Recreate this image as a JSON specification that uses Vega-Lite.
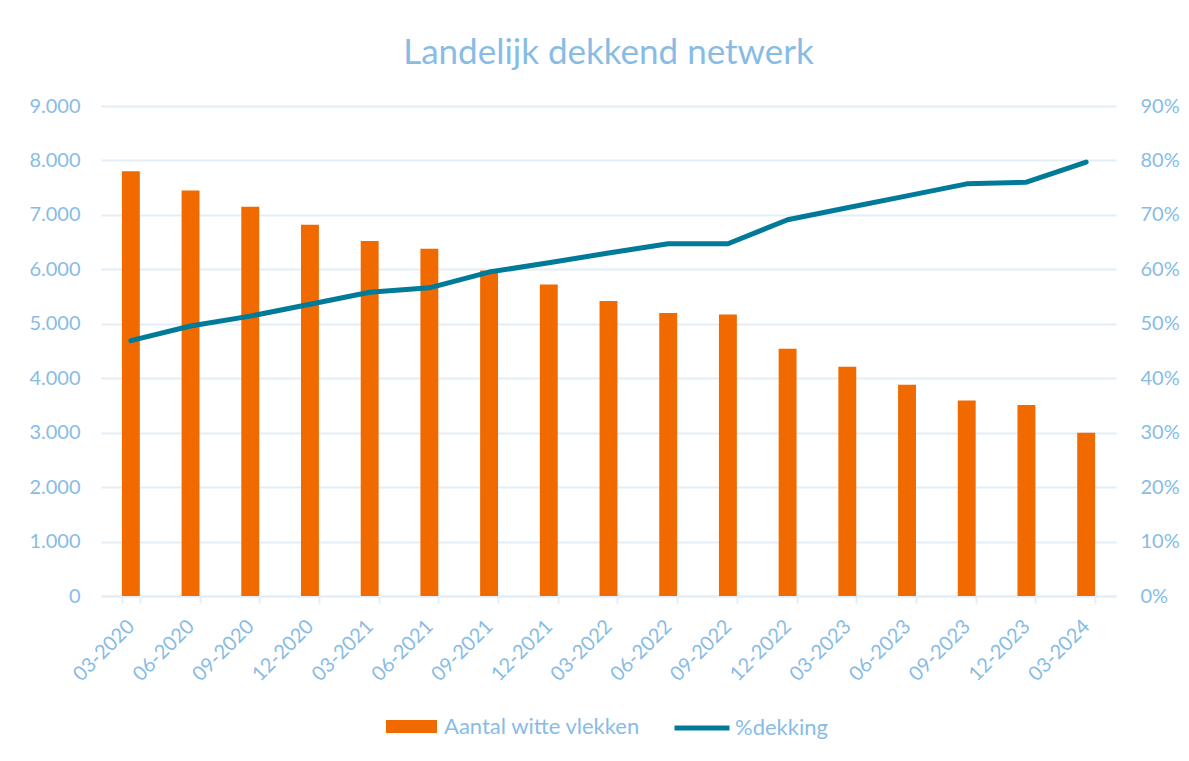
{
  "$schema": "https://vega.github.io/schema/vega-lite/v6.json",
  "width": 1015,
  "height": 490,
  "autosize": "none",
  "padding": {"left": 101, "top": 106, "right": 73, "bottom": 165},
  "background": "white",
  "title": {
    "text": "Landelijk dekkend netwerk",
    "font": "Lato",
    "fontSize": 35,
    "fontWeight": "normal",
    "color": "#88BCE5",
    "anchor": "middle",
    "offset": 25
  },
  "data": {
    "values": [
      {"kwartaal": "03-2020", "vlekken": 7800, "dekking": 0.469},
      {"kwartaal": "06-2020", "vlekken": 7450, "dekking": 0.496},
      {"kwartaal": "09-2020", "vlekken": 7150, "dekking": 0.514},
      {"kwartaal": "12-2020", "vlekken": 6820, "dekking": 0.536},
      {"kwartaal": "03-2021", "vlekken": 6520, "dekking": 0.558},
      {"kwartaal": "06-2021", "vlekken": 6380, "dekking": 0.566},
      {"kwartaal": "09-2021", "vlekken": 5980, "dekking": 0.595},
      {"kwartaal": "12-2021", "vlekken": 5720, "dekking": 0.612},
      {"kwartaal": "03-2022", "vlekken": 5420, "dekking": 0.630},
      {"kwartaal": "06-2022", "vlekken": 5200, "dekking": 0.647},
      {"kwartaal": "09-2022", "vlekken": 5170, "dekking": 0.647},
      {"kwartaal": "12-2022", "vlekken": 4540, "dekking": 0.691},
      {"kwartaal": "03-2023", "vlekken": 4210, "dekking": 0.713},
      {"kwartaal": "06-2023", "vlekken": 3880, "dekking": 0.735},
      {"kwartaal": "09-2023", "vlekken": 3590, "dekking": 0.757},
      {"kwartaal": "12-2023", "vlekken": 3510, "dekking": 0.760},
      {"kwartaal": "03-2024", "vlekken": 3000, "dekking": 0.797}
    ]
  },
  "encoding": {
    "x": {
      "field": "kwartaal",
      "type": "ordinal",
      "sort": null,
      "title": null,
      "scale": {"paddingInner": 0.7, "paddingOuter": 0.35},
      "axis": {
        "labelAngle": -45,
        "labelFont": "Lato",
        "labelFontSize": 20,
        "labelColor": "#88BCE5",
        "labelPadding": 13,
        "labelOffset": -7,
        "tickBand": "extent",
        "tickSize": 7,
        "tickColor": "#E3EEF8",
        "tickWidth": 2,
        "domainColor": "#E3EEF8",
        "domainWidth": 2,
        "grid": false
      }
    }
  },
  "layer": [
    {
      "mark": {"type": "bar"},
      "encoding": {
        "y": {
          "field": "vlekken",
          "type": "quantitative",
          "title": null,
          "scale": {"domain": [0, 9000], "nice": false},
          "axis": {
            "orient": "left",
            "values": [0, 1000, 2000, 3000, 4000, 5000, 6000, 7000, 8000, 9000],
            "labelExpr": "replace(format(datum.value, ','), ',', '.')",
            "labelFont": "Lato",
            "labelFontSize": 20,
            "labelColor": "#88BCE5",
            "labelPadding": 21,
            "domain": false,
            "ticks": false,
            "grid": true,
            "gridColor": "#E3EEF8",
            "gridWidth": 2
          }
        },
        "color": {
          "datum": "Aantal witte vlekken",
          "type": "nominal",
          "scale": {"range": ["#F06A00"]},
          "legend": {
            "orient": "none",
            "legendX": 285,
            "legendY": 595,
            "title": null,
            "symbolType": "M-1,-0.255L1,-0.255L1,0.255L-1,0.255Z",
            "symbolSize": 2601,
            "symbolStrokeWidth": 0,
            "symbolOpacity": 1,
            "labelFont": "Lato",
            "labelFontSize": 22,
            "labelColor": "#88BCE5",
            "labelOffset": 7,
            "labelLimit": 400
          }
        }
      }
    },
    {
      "mark": {"type": "line", "strokeWidth": 5, "strokeCap": "round", "strokeJoin": "round"},
      "encoding": {
        "y": {
          "field": "dekking",
          "type": "quantitative",
          "title": null,
          "scale": {"domain": [0, 0.9], "nice": false},
          "axis": {
            "orient": "right",
            "values": [0, 0.1, 0.2, 0.3, 0.4, 0.5, 0.6, 0.7, 0.8, 0.9],
            "format": ".0%",
            "labelFont": "Lato",
            "labelFontSize": 20,
            "labelColor": "#88BCE5",
            "labelPadding": 24,
            "domain": false,
            "ticks": false,
            "grid": false
          }
        },
        "stroke": {
          "datum": "%dekking",
          "type": "nominal",
          "scale": {"range": ["#007A99"]},
          "legend": {
            "orient": "none",
            "legendX": 571,
            "legendY": 592,
            "title": null,
            "symbolType": "stroke",
            "symbolSize": 3025,
            "symbolStrokeWidth": 5,
            "labelFont": "Lato",
            "labelFontSize": 22,
            "labelColor": "#88BCE5",
            "labelOffset": 3,
            "labelLimit": 400
          }
        }
      }
    }
  ],
  "resolve": {"scale": {"y": "independent"}},
  "config": {
    "view": {"stroke": null}
  }
}
